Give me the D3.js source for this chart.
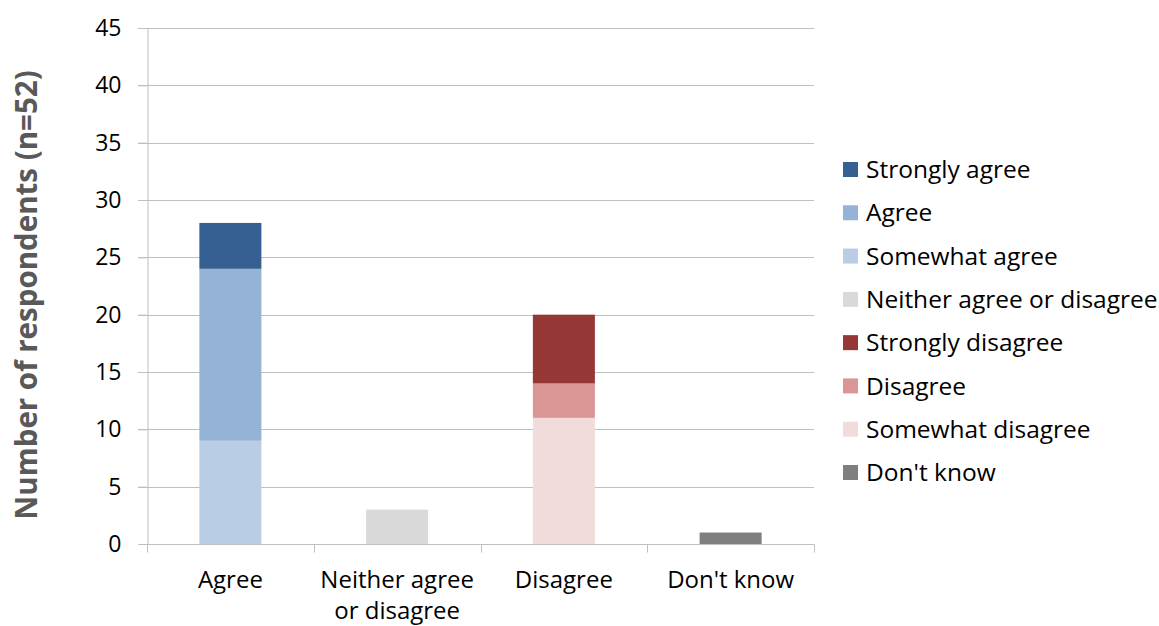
<!DOCTYPE html>
<html>
<head>
<meta charset="utf-8">
<script src="https://cdn.jsdelivr.net/npm/d3@7"></script>
<style>
  html, body { margin: 0; padding: 0; background: #fff; }
  svg { display: block; font-family: "Open Sans", Lato, sans-serif; }
</style>
</head>
<body>
<svg id="chart" width="1159" height="626"></svg>
<script>
// Response groups along the x axis
const categories = ["Agree", "Neither agree or disagree", "Disagree", "Don't know"];
const categoryLines = [["Agree"], ["Neither agree", "or disagree"], ["Disagree"], ["Don't know"]];

// Stacked series (bottom to top within each group)
const seriesNames = ["Somewhat agree", "Agree", "Strongly agree", "Neither agree or disagree",
                     "Somewhat disagree", "Disagree", "Strongly disagree", "Don't know"];
const somewhatAgree    = [9, 0, 0, 0];
const agree            = [15, 0, 0, 0];
const stronglyAgree    = [4, 0, 0, 0];
const neither          = [0, 3, 0, 0];
const somewhatDisagree = [0, 0, 11, 0];
const disagree         = [0, 0, 3, 0];
const stronglyDisagree = [0, 0, 6, 0];
const dontKnow         = [0, 0, 0, 1];
const seriesValues = [somewhatAgree, agree, stronglyAgree, neither,
                      somewhatDisagree, disagree, stronglyDisagree, dontKnow];
const seriesColors = ["#B9CDE5", "#95B3D7", "#366092", "#D9D9D9",
                      "#F2DCDB", "#D99694", "#953735", "#7F7F7F"];

// Legend order as listed
const legendOrder = ["Strongly agree", "Agree", "Somewhat agree", "Neither agree or disagree",
                     "Strongly disagree", "Disagree", "Somewhat disagree", "Don't know"];
const yTicks = [0, 5, 10, 15, 20, 25, 30, 35, 40, 45];
const yTitle = "Number of respondents (n=52)";

const svg = d3.select("#chart");
const plot = { left: 147, right: 814, top: 28, bottom: 544 };

const x = d3.scaleBand().domain(categories).range([plot.left, plot.right]).padding(0);
const y = d3.scaleLinear().domain([0, 45]).range([plot.bottom, plot.top]);
const barW = x.bandwidth() * 0.372;

// Gridlines
svg.append("g")
  .selectAll("line")
  .data(yTicks.filter(d => d > 0))
  .join("line")
  .attr("x1", plot.left - 9).attr("x2", plot.right)
  .attr("y1", d => Math.round(y(d)) + 0.5).attr("y2", d => Math.round(y(d)) + 0.5)
  .attr("stroke", "#BFBFBF").attr("stroke-width", 1);

// Y axis
const yAxis = svg.append("g")
  .attr("transform", `translate(${plot.left + 0.5},0)`)
  .call(d3.axisLeft(y).tickValues(yTicks).tickSize(9).tickPadding(17));
yAxis.select(".domain").attr("stroke", "#BFBFBF");
yAxis.selectAll(".tick line").attr("stroke", "#BFBFBF");
yAxis.selectAll(".tick text")
  .attr("font-size", 23).attr("fill", "#000")
  .attr("font-family", "'Open Sans', sans-serif");

// Stacked bars
const stackData = categories.map((c, i) => {
  const row = { category: c };
  seriesNames.forEach((s, k) => row[s] = seriesValues[k][i]);
  return row;
});
const stacked = d3.stack().keys(seriesNames)(stackData);

svg.append("g")
  .selectAll("g")
  .data(stacked)
  .join("g")
  .attr("fill", (d, k) => seriesColors[k])
  .selectAll("rect")
  .data(d => d.filter(p => p[1] - p[0] > 0))
  .join("rect")
  .attr("x", p => x(p.data.category) + (x.bandwidth() - barW) / 2)
  .attr("width", barW)
  .attr("y", p => y(p[1]))
  .attr("height", p => y(p[0]) - y(p[1]));

// X axis
const xAxis = svg.append("g")
  .attr("transform", `translate(0,${plot.bottom + 0.5})`);
xAxis.append("line")
  .attr("x1", plot.left).attr("x2", plot.right)
  .attr("stroke", "#BFBFBF");
const boundaries = categories.map(c => x(c)).concat([plot.right]);
xAxis.selectAll("line.tick")
  .data(boundaries)
  .join("line")
  .attr("class", "tick")
  .attr("x1", d => Math.round(d) + 0.5).attr("x2", d => Math.round(d) + 0.5)
  .attr("y1", 0).attr("y2", 8)
  .attr("stroke", "#BFBFBF");

const catLabels = svg.append("g");
categories.forEach((c, i) => {
  const t = catLabels.append("text")
    .attr("x", x(c) + x.bandwidth() / 2)
    .attr("y", 588)
    .attr("text-anchor", "middle")
    .attr("font-size", 24)
    .attr("fill", "#000");
  categoryLines[i].forEach((line, j) => {
    t.append("tspan").attr("x", x(c) + x.bandwidth() / 2).attr("dy", j === 0 ? 0 : 31).text(line);
  });
});

// Y axis title
svg.append("text")
  .attr("transform", `translate(37,${(plot.top + plot.bottom) / 2 + 9}) rotate(-90)`)
  .attr("text-anchor", "middle")
  .attr("font-size", 29.5)
  .attr("font-weight", "bold")
  .attr("fill", "#595959")
  .text(yTitle);

// Legend
const legend = svg.append("g");
const legendY = d3.scalePoint().domain(legendOrder).range([169.5, 472.5]);
legendOrder.forEach(name => {
  const k = seriesNames.indexOf(name);
  const cy = legendY(name);
  legend.append("rect")
    .attr("x", 843).attr("y", cy - 7.5)
    .attr("width", 15).attr("height", 15)
    .attr("fill", seriesColors[k]);
  legend.append("text")
    .attr("x", 866).attr("y", cy)
    .attr("dy", "0.35em")
    .attr("font-size", 24.5)
    .attr("fill", "#000")
    .text(name);
});
</script>
</body>
</html>
